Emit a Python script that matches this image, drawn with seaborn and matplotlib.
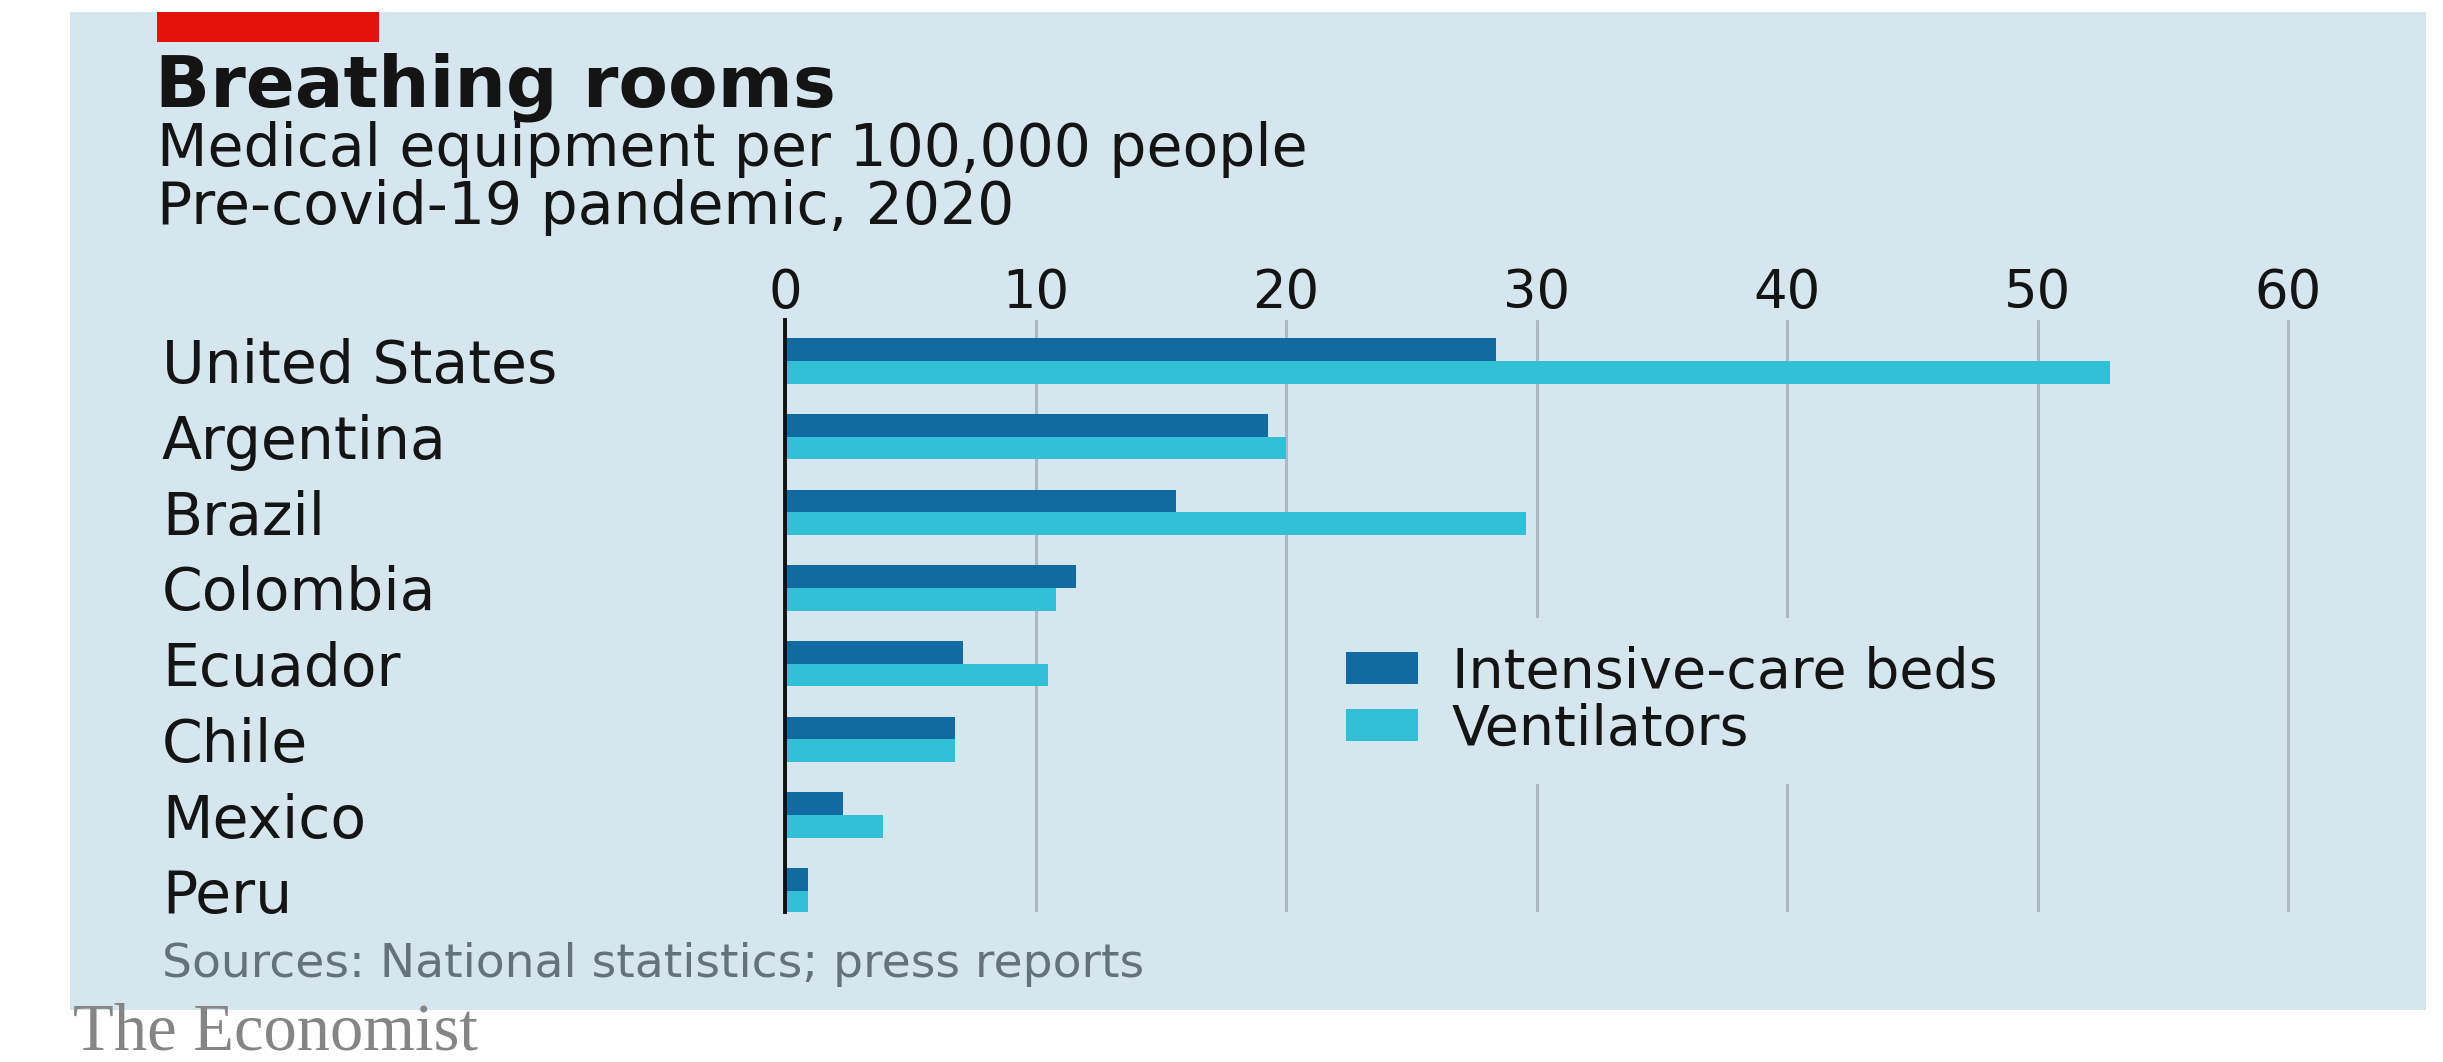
import matplotlib
matplotlib.use("Agg")
import matplotlib.pyplot as plt
import seaborn as sns
import pandas as pd
from matplotlib.patches import Rectangle

# ---- data ----
countries = ["United States", "Argentina", "Brazil", "Colombia", "Ecuador", "Chile", "Mexico", "Peru"]
icu_beds = [28.4, 19.3, 15.6, 11.6, 7.1, 6.8, 2.3, 0.9]
ventilators = [52.9, 20.0, 29.6, 10.8, 10.5, 6.8, 3.9, 0.9]
series_names = ["Intensive-care beds", "Ventilators"]
x_ticks = [0, 10, 20, 30, 40, 50, 60]

title = "Breathing rooms"
subtitle = "Medical equipment per 100,000 people"
subtitle2 = "Pre-covid-19 pandemic, 2020"
source = "Sources: National statistics; press reports"
brand = "The Economist"

# ---- style ----
W, H, DPI = 2443, 1062, 100
BG = "#d6e6ee"
DARK = "#116ba2"
CYAN = "#31c0d5"
GRID = "#aab9c2"
TEXT = "#141414"
SOURCE_C = "#64737a"
RED = "#e3120b"
BRAND_C = "#858585"

sns.set_theme(style="white")
plt.rcParams["font.family"] = ["DejaVu Sans"]

fig = plt.figure(figsize=(W / DPI, H / DPI), dpi=DPI, facecolor="white")


def fx(px):
    return px / W


def fy(py):
    return 1 - py / H


# background panel and red tag
fig.add_artist(Rectangle((fx(70), fy(1010)), fx(2426) - fx(70), fy(12) - fy(1010),
                         transform=fig.transFigure, facecolor=BG, edgecolor="none", zorder=0))
fig.add_artist(Rectangle((fx(157), fy(42)), fx(379) - fx(157), fy(12) - fy(42),
                         transform=fig.transFigure, facecolor=RED, edgecolor="none", zorder=1))

# axes
unit = 25.05  # px per data unit
ax = fig.add_axes([fx(785), fy(912), 61 * unit / W, (912 - 320) / H])
ax.set_facecolor("none")

df = pd.DataFrame({
    "country": countries * 2,
    "value": icu_beds + ventilators,
    "series": [series_names[0]] * len(countries) + [series_names[1]] * len(countries),
})

sns.barplot(data=df, y="country", x="value", hue="series", order=countries,
            hue_order=series_names, palette=[DARK, CYAN], width=0.6, dodge=True,
            saturation=1, errorbar=None, ax=ax, linewidth=0)

ax.set_xlim(0, 61)
ax.set_ylim(7.28, -0.54)
ax.set_xlabel("")
ax.set_ylabel("")

ax.xaxis.tick_top()
ax.set_xticks(x_ticks)
ax.set_xticklabels([str(t) for t in x_ticks])
ax.tick_params(axis="x", length=0, pad=1, labelsize=38, labelcolor=TEXT)
ax.tick_params(axis="y", length=0, pad=(785 - 162) / 1.3889, labelsize=42, labelcolor=TEXT)
for lab in ax.get_yticklabels():
    lab.set_horizontalalignment("left")

ax.set_axisbelow(True)
ax.xaxis.grid(True, color=GRID, linewidth=2.2)
ax.yaxis.grid(False)

for s in ["top", "right", "bottom"]:
    ax.spines[s].set_visible(False)
ax.spines["left"].set_color("#111111")
ax.spines["left"].set_linewidth(2.8)
ax.spines["left"].set_zorder(3)

# legend
old = ax.get_legend()
handles = old.legend_handles
labels = [t.get_text() for t in old.get_texts()]
old.remove()
leg = ax.legend(handles, labels, loc="center left", bbox_to_anchor=(0.349, 0.356),
                bbox_transform=ax.transAxes, fontsize=40, frameon=True, facecolor=BG,
                edgecolor="none", framealpha=1, fancybox=False, borderaxespad=0,
                borderpad=0.5, handlelength=1.3, handleheight=0.5, handletextpad=0.6,
                labelspacing=0.05)
for t in leg.get_texts():
    t.set_color(TEXT)

# texts
fig.text(fx(155), fy(106), title, fontsize=52, fontweight="bold", color=TEXT,
         ha="left", va="baseline")
fig.text(fx(157), fy(166), subtitle, fontsize=42, color=TEXT, ha="left", va="baseline")
fig.text(fx(157), fy(224), subtitle2, fontsize=42, color=TEXT, ha="left", va="baseline")
fig.text(fx(162), fy(977), source, fontsize=34, color=SOURCE_C, ha="left", va="baseline")
fig.text(fx(73), fy(1049), brand, fontsize=48, color=BRAND_C, ha="left", va="baseline",
         family=["Liberation Serif", "DejaVu Serif"])

fig.savefig("out.png", dpi=DPI, facecolor="white")
